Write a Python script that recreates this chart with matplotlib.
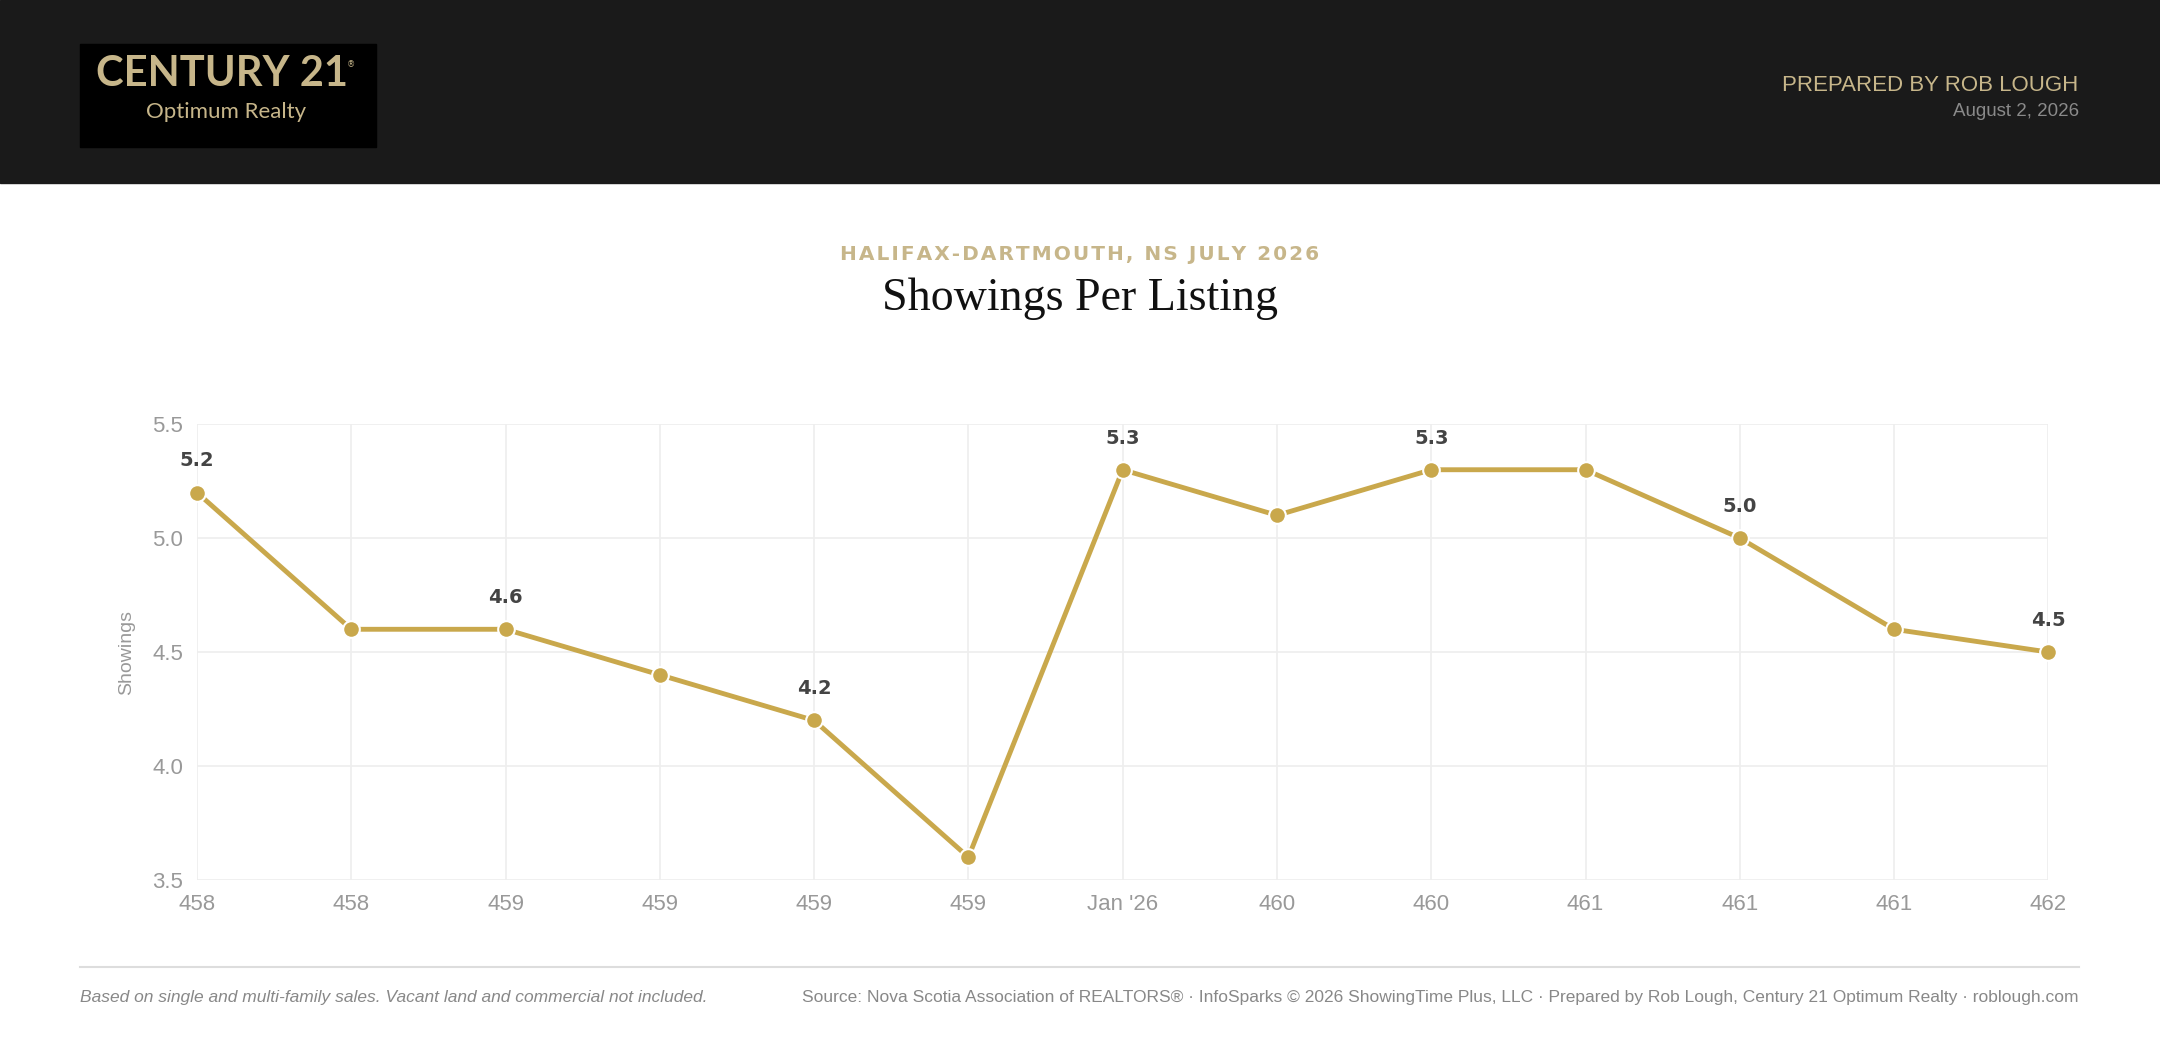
import matplotlib
matplotlib.use("Agg")
import matplotlib.pyplot as plt
from matplotlib.patches import Rectangle

x_labels = ["458", "458", "459", "459", "459", "459", "Jan '26", "460", "460", "461", "461", "461", "462"]
showings = [5.2, 4.6, 4.6, 4.4, 4.2, 3.6, 5.3, 5.1, 5.3, 5.3, 5.0, 4.6, 4.5]
label_idx = [0, 2, 4, 6, 8, 10, 12]

W, H = 1568, 761
fig = plt.figure(figsize=(21.6, 10.48), dpi=100)
def fx(x): return x / W
def fy(y): return 1 - y / H

GOLD = "#c9a84c"
TAN = "#c7b68a"
# header
fig.patches.append(Rectangle((0, fy(133)), 1, 133 / H, transform=fig.transFigure, color="#1a1a1a", zorder=0))
fig.patches.append(Rectangle((fx(58), fy(107)), (273 - 58) / W, 75 / H, transform=fig.transFigure, color="#000000", zorder=1))
fig.text(fx(161), fy(54), "CENTURY 21", color=TAN, fontsize=30, fontweight="bold", ha="center", va="center", family="Lato")
fig.text(fx(255), fy(47), "®", color=TAN, fontsize=6, ha="center", va="center")
fig.text(fx(164), fy(81), "Optimum Realty", color=TAN, fontsize=16, ha="center", va="center", family="Lato")
fig.text(fx(1509), fy(62), "PREPARED BY ROB LOUGH", color=TAN, fontsize=16, ha="right", va="center", family="Liberation Sans")
fig.text(fx(1509), fy(81), "August 2, 2026", color="#8a8a8a", fontsize=13.5, ha="right", va="center", family="Liberation Sans")

sub = "HALIFAX-DARTMOUTH, NS JULY 2026"
fig.text(0.5, fy(185), "\u200a".join(sub), color=TAN, fontsize=14.5, fontweight="bold", ha="center", va="center", family="DejaVu Sans")
fig.text(0.5, fy(217), "Showings Per Listing", color="#111111", fontsize=33, ha="center", va="center", family="Liberation Serif")

ax = fig.add_axes([fx(143), fy(639), (1487 - 143) / W, (639 - 308) / H])
xs = list(range(len(showings)))
ax.plot(xs, showings, color=GOLD, lw=3.5, marker="o", ms=12, mfc=GOLD, mec="white", mew=1.5, zorder=3, clip_on=False)
for i in label_idx:
    ax.annotate(f"{showings[i]:.1f}", (xs[i], showings[i]), xytext=(0, 16), textcoords="offset points",
                ha="center", va="bottom", fontsize=14, fontweight="bold", color="#444444", family="Liberation Sans Narrow")
ax.set_xlim(0, len(showings) - 1)
ax.set_ylim(3.5, 5.5)
ax.set_yticks([3.5, 4.0, 4.5, 5.0, 5.5])
ax.set_yticklabels(["3.5", "4.0", "4.5", "5.0", "5.5"])
ax.set_xticks(xs)
ax.set_xticklabels(x_labels)
ax.grid(True, color="#eeeeee", lw=1.2)
for s in ax.spines.values():
    s.set_visible(False)
ax.tick_params(length=0, labelsize=16, labelcolor="#999999", pad=10)
for t in ax.get_xticklabels() + ax.get_yticklabels():
    t.set_family("Liberation Sans")
ax.set_ylabel("Showings", fontsize=14, color="#999999", family="Liberation Sans", labelpad=12)

fig.add_artist(plt.Line2D([fx(58), fx(1509)], [fy(702), fy(702)], transform=fig.transFigure, color="#dddddd", lw=1.5))
fig.text(fx(58), fy(724), "Based on single and multi-family sales. Vacant land and commercial not included.", color="#888888",
         fontsize=12.5, style="italic", ha="left", va="center", family="Liberation Sans")
fig.text(fx(1509), fy(724), "Source: Nova Scotia Association of REALTORS® · InfoSparks © 2026 ShowingTime Plus, LLC · Prepared by Rob Lough, Century 21 Optimum Realty · roblough.com",
         color="#888888", fontsize=12.5, ha="right", va="center", family="Liberation Sans")
fig.savefig("out.png", dpi=100, facecolor="white")
